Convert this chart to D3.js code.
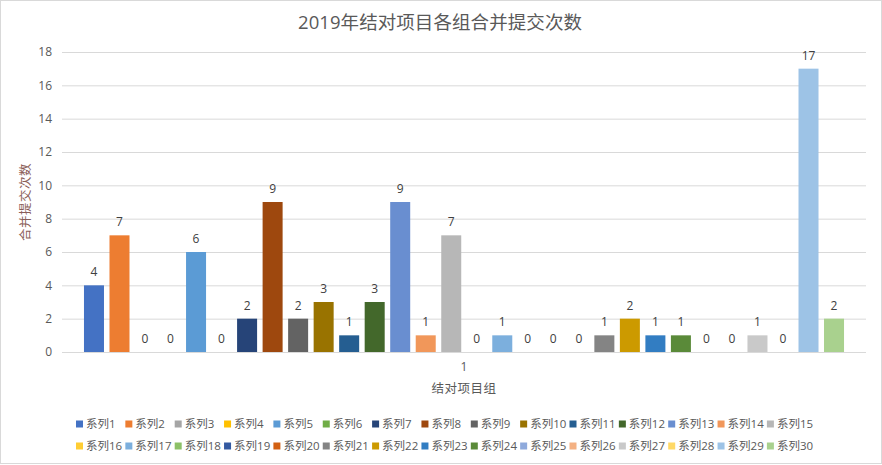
<!DOCTYPE html>
<html>
<head>
<meta charset="utf-8">
<script src="https://cdn.jsdelivr.net/npm/d3@7/dist/d3.min.js"></script>
<style>
  html, body { margin: 0; padding: 0; background: #fff; }
  svg { display: block; }
  text { font-family: "Open Sans", "Noto Sans CJK SC", sans-serif; }
</style>
</head>
<body>
<svg id="chart" width="882" height="465"></svg>
<script>
const categories = ["1"];
const seriesNames = d3.range(1, 31).map(i => "系列" + i);
const seriesValues = [4, 7, 0, 0, 6, 0, 2, 9, 2, 3, 1, 3, 9, 1, 7, 0, 1, 0, 0, 0, 1, 2, 1, 1, 0, 0, 1, 0, 17, 2];
const seriesColors = ["#4472C4", "#ED7D31", "#A5A5A5", "#FFC000", "#5B9BD5", "#70AD47",
  "#264478", "#9E480E", "#636363", "#997300", "#255E91", "#43682B",
  "#698ED0", "#F1975A", "#B7B7B7", "#FFCD33", "#7CAFDD", "#8CC168",
  "#335AA1", "#D26012", "#848484", "#CC9A00", "#327DC2", "#5A8A39",
  "#8FAADC", "#F4B183", "#C9C9C9", "#FFD966", "#9DC3E6", "#A9D18E"];
const yTicks = [0, 2, 4, 6, 8, 10, 12, 14, 16, 18];
const titleText = "2019年结对项目各组合并提交次数";
const xTitle = "结对项目组";
const yTitle = "合并提交次数";

const svg = d3.select("#chart");
const W = 882, H = 465;
const plot = { left: 62, right: 866, top: 52, bottom: 352 };

svg.append("rect").attr("x", 0.5).attr("y", 0.5).attr("width", W - 1).attr("height", H - 2)
  .attr("fill", "#fff").attr("stroke", "#D9D9D9");

const y = d3.scaleLinear().domain([0, 18]).range([plot.bottom, plot.top]);
const x0 = d3.scaleBand().domain(categories).range([plot.left, plot.right])
  .paddingInner(0).paddingOuter(0.0251);
const x1 = d3.scaleBand().domain(seriesNames).range([0, x0.bandwidth()])
  .paddingInner(0.216).paddingOuter(0.108);

// gridlines
const grid = svg.append("g").attr("transform", `translate(${plot.left},0)`)
  .call(d3.axisLeft(y).tickValues(yTicks).tickSize(-(plot.right - plot.left)).tickFormat(""));
grid.select(".domain").remove();
grid.selectAll(".tick line").attr("stroke", "#D9D9D9").attr("stroke-width", 1);

// y tick labels
const yAxis = svg.append("g").attr("transform", `translate(${plot.left - 10},0)`)
  .call(d3.axisLeft(y).tickValues(yTicks).tickSize(0).tickPadding(0));
yAxis.select(".domain").remove();
yAxis.selectAll("text").attr("fill", "#595959").attr("font-size", 12)
  .attr("font-family", "'Open Sans', sans-serif");

// bars
const gCat = svg.append("g").selectAll("g").data(categories).join("g")
  .attr("transform", d => `translate(${x0(d)},0)`);
const data = seriesNames.map((n, i) => ({ name: n, value: seriesValues[i], color: seriesColors[i] }));
gCat.selectAll("rect").data(data).join("rect")
  .attr("x", d => x1(d.name)).attr("width", x1.bandwidth())
  .attr("y", d => y(d.value)).attr("height", d => y(0) - y(d.value))
  .attr("fill", d => d.color);
gCat.selectAll("text.lbl").data(data).join("text").attr("class", "lbl")
  .attr("x", d => x1(d.name) + x1.bandwidth() / 2)
  .attr("y", d => y(d.value) - 9)
  .attr("text-anchor", "middle").attr("font-size", 12).attr("fill", "#404040")
  .text(d => d.value);

// baseline
svg.append("line").attr("x1", plot.left).attr("x2", plot.right)
  .attr("y1", y(0) + 0.5).attr("y2", y(0) + 0.5).attr("stroke", "#D9D9D9");

// category axis labels
const xAxis = svg.append("g").attr("transform", `translate(0,${plot.bottom})`)
  .call(d3.axisBottom(x0).tickSize(0).tickPadding(0));
xAxis.select(".domain").remove();
xAxis.selectAll("text").attr("fill", "#595959").attr("font-size", 12)
  .attr("dy", 0).attr("y", 19);

// title
svg.append("text").attr("x", 298).attr("y", 29)
  .attr("font-size", 18.5).attr("fill", "#595959")
  .attr("textLength", 284).attr("lengthAdjust", "spacing")
  .text(titleText);

// axis titles
svg.append("text").attr("x", x0(categories[0]) + x0.bandwidth() / 2).attr("y", 393)
  .attr("text-anchor", "middle").attr("font-size", 12.5).attr("letter-spacing", "0.5px")
  .attr("font-family", "'Noto Sans CJK SC', sans-serif").attr("fill", "#595959").text(xTitle);
svg.append("text").attr("transform", "translate(30,202) rotate(-90)")
  .attr("text-anchor", "middle").attr("font-size", 12.5).attr("letter-spacing", "0.5px")
  .attr("font-family", "'Noto Sans CJK SC', sans-serif").attr("fill", "#8A5E58").text(yTitle);

// legend
const perRow = 15, colW = 49.35, legX = 76, rowY = [424, 446];
const leg = svg.append("g").selectAll("g").data(data).join("g")
  .attr("transform", (d, i) => `translate(${legX + (i % perRow) * colW},${rowY[Math.floor(i / perRow)]})`);
leg.append("rect").attr("x", 0).attr("y", -3.5).attr("width", 7).attr("height", 7)
  .attr("fill", d => d.color);
leg.append("text").attr("x", 10).attr("y", 4.2).attr("font-size", 11.5).attr("fill", "#595959")
  .text(d => d.name);
</script>
</body>
</html>
